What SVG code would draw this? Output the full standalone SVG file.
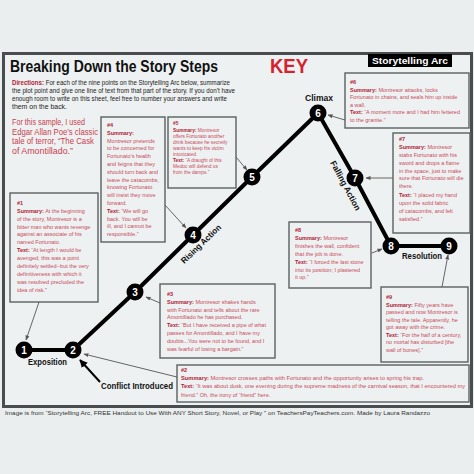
<svg xmlns="http://www.w3.org/2000/svg" width="474" height="474" viewBox="0 0 474 474">
<defs>
<style>
.bx{fill:#eef1f1;stroke:#5b6061;stroke-width:1.4}
.t{font-family:"Liberation Sans",Arial,sans-serif;font-size:5.5px;fill:#c94a5c}
.t5{font-size:4.8px}
.b{font-weight:bold;fill:#b01c36}
.lbl{font-family:"Liberation Sans",Arial,sans-serif;font-weight:bold;font-size:8.5px;fill:#111}
.num{font-family:"Liberation Sans",Arial,sans-serif;font-weight:bold;font-size:10px;fill:#fff;text-anchor:middle}
.arc{stroke:#000;stroke-width:4;fill:none;stroke-linejoin:round}
.ptr{stroke:#555;stroke-width:0.9;fill:none;marker-end:url(#ah)}
.dir{font-family:"Liberation Sans",Arial,sans-serif;font-size:6.3px;fill:#222}
.red{font-family:"Liberation Sans",Arial,sans-serif;font-size:8.2px;fill:#c9404f}
</style>
<marker id="ah" viewBox="0 0 10 10" refX="9" refY="5" markerWidth="5" markerHeight="5" orient="auto" markerUnits="userSpaceOnUse"><path d="M0,1 L10,5 L0,9 z" fill="#555"/></marker>
<marker id="ahk" viewBox="0 0 10 10" refX="9" refY="5" markerWidth="8" markerHeight="8" orient="auto" markerUnits="userSpaceOnUse"><path d="M0,0 L10,5 L0,10 z" fill="#000"/></marker>
</defs>
<rect x="0" y="0" width="474" height="474" fill="#eaeeee"/>
<rect x="3.5" y="53.5" width="468" height="353" fill="#eef1f1" stroke="#4a4d4e" stroke-width="3"/>

<g id="header">
<text x="10" y="72" font-family="Liberation Sans,Arial,sans-serif" font-weight="bold" font-size="17" fill="#111" textLength="208" lengthAdjust="spacingAndGlyphs">Breaking Down the Story Steps</text>
<text x="270" y="73" font-family="Liberation Sans,Arial,sans-serif" font-weight="bold" font-size="21" fill="#d3232f" textLength="38" lengthAdjust="spacingAndGlyphs">KEY</text>
<rect x="368" y="54" width="84" height="13" fill="#000"/>
<text x="410" y="64" font-family="Liberation Sans,Arial,sans-serif" font-weight="bold" font-size="9" fill="#fff" text-anchor="middle" textLength="76" lengthAdjust="spacingAndGlyphs">Storytelling Arc</text>
<text class="dir" x="12" y="84.5" textLength="218" lengthAdjust="spacingAndGlyphs"><tspan font-weight="bold" fill="#b01c36">Directions:</tspan> For each of the nine points on the Storytelling Arc below, summarize</text>
<text class="dir" x="12" y="92.5" textLength="223" lengthAdjust="spacingAndGlyphs">the plot point and give one line of text from that part of the story. If you don’t have</text>
<text class="dir" x="12" y="100.5" textLength="215" lengthAdjust="spacingAndGlyphs">enough room to write on this sheet, feel free to number your answers and write</text>
<text class="dir" x="12" y="108.5" textLength="55" lengthAdjust="spacingAndGlyphs">them on the back.</text>
<text class="red" x="12" y="125" textLength="73" lengthAdjust="spacingAndGlyphs">For this sample, I used</text>
<text class="red" x="12" y="134.5" textLength="86" lengthAdjust="spacingAndGlyphs">Edgar Allan Poe’s classic</text>
<text class="red" x="12" y="144" textLength="82" lengthAdjust="spacingAndGlyphs">tale of terror, “The Cask</text>
<text class="red" x="12" y="153.5" textLength="61" lengthAdjust="spacingAndGlyphs">of Amontillado.”</text>
</g>

<g id="connectors">
<polyline class="arc" points="24,350 73,350 135,292 193,235 252,177 318,113 355,178 391,246 449,246"/>
<line class="ptr" x1="39" y1="302" x2="26" y2="340"/>
<line class="ptr" x1="177" y1="377" x2="84" y2="354"/>
<line class="ptr" x1="160" y1="303" x2="146" y2="297"/>
<line class="ptr" x1="165" y1="205" x2="186" y2="228"/>
<line class="ptr" x1="236" y1="157" x2="247" y2="170"/>
<line class="ptr" x1="345" y1="120" x2="328" y2="115"/>
<line class="ptr" x1="393" y1="178" x2="366" y2="178"/>
<line class="ptr" x1="372" y1="253" x2="382" y2="249"/>
<line class="ptr" x1="442" y1="287" x2="448" y2="255"/>
<line x1="100" y1="382" x2="80" y2="360" stroke="#000" stroke-width="2" marker-end="url(#ahk)"/>
</g>

<g id="n1"><circle cx="24" cy="350" r="8.5" fill="#000"/><text class="num" x="24" y="353.5">1</text></g>
<g id="n2"><circle cx="73" cy="350" r="8.5" fill="#000"/><text class="num" x="73" y="353.5">2</text></g>
<g id="n3"><circle cx="135" cy="292" r="8.5" fill="#000"/><text class="num" x="135" y="295.5">3</text></g>
<g id="n4"><circle cx="193" cy="235" r="8.5" fill="#000"/><text class="num" x="193" y="238.5">4</text></g>
<g id="n5"><circle cx="252" cy="177" r="8.5" fill="#000"/><text class="num" x="252" y="180.5">5</text></g>
<g id="n6"><circle cx="318" cy="113" r="8.5" fill="#000"/><text class="num" x="318" y="116.5">6</text></g>
<g id="n7"><circle cx="355" cy="178" r="8.5" fill="#000"/><text class="num" x="355" y="181.5">7</text></g>
<g id="n8"><circle cx="391" cy="246" r="8.5" fill="#000"/><text class="num" x="391" y="249.5">8</text></g>
<g id="n9"><circle cx="449" cy="246" r="8.5" fill="#000"/><text class="num" x="449" y="249.5">9</text></g>

<g id="labels">
<text class="lbl" x="28" y="365" textLength="39" lengthAdjust="spacingAndGlyphs">Exposition</text>
<text class="lbl" x="101" y="389" textLength="72" lengthAdjust="spacingAndGlyphs">Conflict Introduced</text>
<text class="lbl" x="402" y="259" textLength="40" lengthAdjust="spacingAndGlyphs">Resolution</text>
<text class="lbl" x="305" y="101" textLength="28" lengthAdjust="spacingAndGlyphs">Climax</text>
<text class="lbl" transform="translate(203,246) rotate(-44)" text-anchor="middle" textLength="52" lengthAdjust="spacingAndGlyphs">Rising Action</text>
<text class="lbl" transform="translate(343,187) rotate(62)" text-anchor="middle" textLength="55" lengthAdjust="spacingAndGlyphs">Falling Action</text>
</g>

<g id="box1">
<rect class="bx" x="10" y="193" width="88" height="109"/>
<text class="t" x="17" y="205"><tspan class="b">#1</tspan></text>
<text class="t" x="17" y="213"><tspan class="b">Summary:</tspan> At the beginning</text>
<text class="t" x="17" y="221">of the story, Montresor is a</text>
<text class="t" x="17" y="228.5">bitter man who wants revenge</text>
<text class="t" x="17" y="236">against an associate of his</text>
<text class="t" x="17" y="244">named Fortunato.</text>
<text class="t" x="17" y="252"><tspan class="b">Text:</tspan> “At length I would be</text>
<text class="t" x="17" y="260">avenged; this was a point</text>
<text class="t" x="17" y="268">definitely settled--but the very</text>
<text class="t" x="17" y="276">definitiveness with which it</text>
<text class="t" x="17" y="284">was resolved precluded the</text>
<text class="t" x="17" y="291.5">idea of risk.”</text>
</g>

<g id="box4">
<rect class="bx" x="101" y="117" width="64" height="125"/>
<text class="t" x="107" y="127"><tspan class="b">#4</tspan></text>
<text class="t" x="107" y="134.8"><tspan class="b">Summary:</tspan></text>
<text class="t" x="107" y="142.6">Montresor pretends</text>
<text class="t" x="107" y="150.4">to be concerned for</text>
<text class="t" x="107" y="158.2">Fortunato’s health</text>
<text class="t" x="107" y="166">and feigns that they</text>
<text class="t" x="107" y="173.8">should turn back and</text>
<text class="t" x="107" y="181.6">leave the catacombs,</text>
<text class="t" x="107" y="189.4">knowing Fortunato</text>
<text class="t" x="107" y="197.2">will insist they move</text>
<text class="t" x="107" y="205">forward.</text>
<text class="t" x="107" y="212.8"><tspan class="b">Text:</tspan> “We will go</text>
<text class="t" x="107" y="220.6">back. You will be</text>
<text class="t" x="107" y="228.4">ill, and I cannot be</text>
<text class="t" x="107" y="236.2">responsible.”</text>
</g>

<g id="box5">
<rect class="bx" x="168" y="117" width="68" height="71"/>
<text class="t t5" x="173" y="124.5"><tspan class="b">#5</tspan></text>
<text class="t t5" x="173" y="132"><tspan class="b">Summary:</tspan> Montresor</text>
<text class="t t5" x="173" y="138">offers Fortunato another</text>
<text class="t t5" x="173" y="144">drink because he secretly</text>
<text class="t t5" x="173" y="150">wants to keep his victim</text>
<text class="t t5" x="173" y="156">intoxicated.</text>
<text class="t t5" x="173" y="162"><tspan class="b">Text:</tspan> “A draught of this</text>
<text class="t t5" x="173" y="168">Medoc will defend us</text>
<text class="t t5" x="173" y="174">from the damps.”</text>
</g>

<g id="box6">
<rect class="bx" x="345" y="73" width="124" height="55"/>
<text class="t" x="350" y="84"><tspan class="b">#6</tspan></text>
<text class="t" x="350" y="91.5"><tspan class="b">Summary:</tspan> Montresor attacks, locks</text>
<text class="t" x="350" y="99">Fortunato in chains, and seals him up inside</text>
<text class="t" x="350" y="106.5">a wall.</text>
<text class="t" x="350" y="114"><tspan class="b">Text:</tspan> “A moment more and I had him fettered</text>
<text class="t" x="350" y="121.5">to the granite.”</text>
</g>

<g id="box7">
<rect class="bx" x="393" y="133" width="77" height="100"/>
<text class="t" x="399" y="141"><tspan class="b">#7</tspan></text>
<text class="t" x="399" y="149"><tspan class="b">Summary:</tspan> Montresor</text>
<text class="t" x="399" y="157">stabs Fortunato with his</text>
<text class="t" x="399" y="165">sword and drops a flame</text>
<text class="t" x="399" y="172.5">in the space, just to make</text>
<text class="t" x="399" y="180">sure that Fortunato will die</text>
<text class="t" x="399" y="187.5">there.</text>
<text class="t" x="399" y="197"><tspan class="b">Text:</tspan> “I placed my hand</text>
<text class="t" x="399" y="205">upon the solid fabric</text>
<text class="t" x="399" y="213">of catacombs, and felt</text>
<text class="t" x="399" y="220.5">satisfied.”</text>
</g>

<g id="box8">
<rect class="bx" x="289" y="222" width="82" height="66"/>
<text class="t" x="295" y="232"><tspan class="b">#8</tspan></text>
<text class="t" x="295" y="240"><tspan class="b">Summary:</tspan> Montresor</text>
<text class="t" x="295" y="248">finishes the wall, confident</text>
<text class="t" x="295" y="255.5">that the job is done.</text>
<text class="t" x="295" y="264"><tspan class="b">Text:</tspan> “I forced the last stone</text>
<text class="t" x="295" y="271.5">into its position; I plastered</text>
<text class="t" x="295" y="279">it up.”</text>
</g>

<g id="box9">
<rect class="bx" x="381" y="287" width="87" height="75"/>
<text class="t" x="386" y="299"><tspan class="b">#9</tspan></text>
<text class="t" x="386" y="306.5"><tspan class="b">Summary:</tspan> Fifty years have</text>
<text class="t" x="386" y="314">passed and now Montresor is</text>
<text class="t" x="386" y="321.5">telling the tale. Apparently, he</text>
<text class="t" x="386" y="329">got away with the crime.</text>
<text class="t" x="386" y="336.5"><tspan class="b">Text:</tspan> “For the half of a century,</text>
<text class="t" x="386" y="344">no mortal has disturbed [the</text>
<text class="t" x="386" y="351.5">wall of bones].”</text>
</g>

<g id="box3">
<rect class="bx" x="160" y="284" width="115" height="74"/>
<text class="t" x="167" y="296"><tspan class="b">#3</tspan></text>
<text class="t" x="167" y="304"><tspan class="b">Summary:</tspan> Montresor shakes hands</text>
<text class="t" x="167" y="311.5">with Fortunato and tells about the rare</text>
<text class="t" x="167" y="319">Amontillado he has purchased.</text>
<text class="t" x="167" y="327"><tspan class="b">Text:</tspan> “But I have received a pipe of what</text>
<text class="t" x="167" y="335">passes for Amontillado, and I have my</text>
<text class="t" x="167" y="343">doubts...You were not to be found, and I</text>
<text class="t" x="167" y="350.5">was fearful of losing a bargain.”</text>
</g>

<g id="box2">
<rect class="bx" x="177" y="365" width="292" height="37"/>
<text class="t" x="181" y="371.5"><tspan class="b">#2</tspan></text>
<text class="t" x="181" y="379.5" textLength="243" lengthAdjust="spacingAndGlyphs"><tspan class="b">Summary:</tspan> Montresor crosses paths with Fortunato and the opportunity arises to spring his trap.</text>
<text class="t" x="181" y="388" textLength="284" lengthAdjust="spacingAndGlyphs"><tspan class="b">Text:</tspan> “It was about dusk, one evening during the supreme madness of the carnival season, that I encountered my</text>
<text class="t" x="181" y="396.5">friend.” Oh, the irony of “friend” here.</text>
</g>

<g id="footer">
<text x="5" y="415" font-family="Liberation Sans,Arial,sans-serif" font-size="5.6" fill="#333" textLength="425" lengthAdjust="spacingAndGlyphs">Image is from “Storytelling Arc, FREE Handout to Use With ANY Short Story, Novel, or Play ” on TeachersPayTeachers.com. Made by Laura Randazzo</text>
</g>
</svg>
